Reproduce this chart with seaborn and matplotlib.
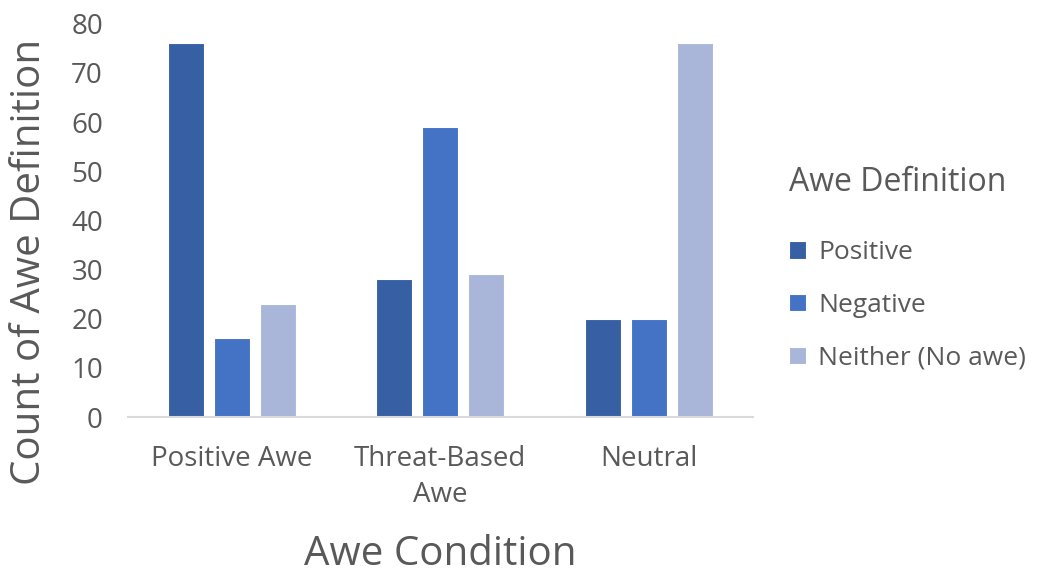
import matplotlib
matplotlib.use("Agg")
import matplotlib.pyplot as plt
import seaborn as sns
import pandas as pd

conditions = ["Positive Awe", "Threat-Based\nAwe", "Neutral"]
definitions = ["Positive", "Negative", "Neither (No awe)"]
positive_counts = [76, 28, 20]
negative_counts = [16, 59, 20]
neither_counts = [23, 29, 76]
y_ticks = [0, 10, 20, 30, 40, 50, 60, 70, 80]

palette = ["#375FA3", "#4472C4", "#A9B6DA"]
text_color = "#595959"

rows = []
for defn, vals in zip(definitions, [positive_counts, negative_counts, neither_counts]):
    for cond, v in zip(conditions, vals):
        rows.append({"Awe Condition": cond, "Awe Definition": defn, "Count": v})
df = pd.DataFrame(rows)

sns.set_theme(style="white")
plt.rcParams["font.family"] = ["Open Sans", "DejaVu Sans"]

fig = plt.figure(figsize=(10.5, 5.74), dpi=100)
ax = fig.add_axes([0.1219, 0.2735, 0.595, 0.685])

sns.barplot(data=df, x="Awe Condition", y="Count", hue="Awe Definition",
            hue_order=definitions, order=conditions, palette=palette,
            width=0.663, gap=0.22, edgecolor="white", linewidth=0.8,
            saturation=1, ax=ax)

ax.set_ylim(0, 80)
ax.set_yticks(y_ticks)
ax.tick_params(axis="both", length=0, colors=text_color, labelsize=20)
ax.tick_params(axis="y", pad=18)
ax.tick_params(axis="x", pad=20)
for lbl in ax.get_xticklabels():
    lbl.set_linespacing(1.4)
for s in ["top", "right", "left"]:
    ax.spines[s].set_visible(False)
ax.spines["bottom"].set_color("#D9D9D9")
ax.spines["bottom"].set_linewidth(1.5)

ax.set_xlabel("Awe Condition", fontsize=29, color=text_color)
ax.xaxis.set_label_coords(0.5, -0.35)
ax.xaxis.label.set_va("center")
ax.set_ylabel("Count of Awe Definition", fontsize=29, color=text_color)
ax.yaxis.set_label_coords(-0.157, 0.394)
ax.yaxis.label.set_va("center")

leg = ax.legend(title="Awe Definition", loc="upper left",
                bbox_to_anchor=(1.02, 0.70), frameon=False,
                fontsize=19, title_fontsize=23, handlelength=0.65,
                handleheight=0.65, handletextpad=0.45, labelspacing=1.05,
                alignment="left")
plt.setp(leg.get_title(), color=text_color)
leg._legend_box.sep = 30
for t in leg.get_texts():
    t.set_color(text_color)

fig.savefig("out.png", dpi=100, facecolor="white")
